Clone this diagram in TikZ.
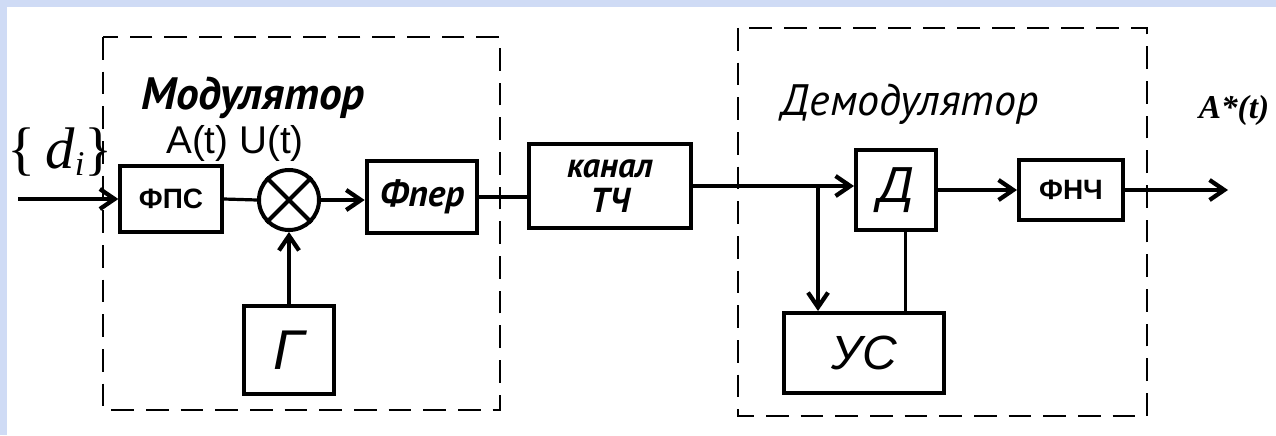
\documentclass[tikz,border=0pt]{standalone}
\usepackage{fontspec}
\setmainfont{Liberation Serif}
\newfontfamily\pts{PT Sans}
\newfontfamily\lib{Liberation Sans}
\usetikzlibrary{arrows.meta,calc}
\definecolor{bgblue}{RGB}{207,219,245}
\tikzset{
  blk/.style={draw, line width=3pt, inner sep=0pt},
  grp/.style={draw, line width=1.8pt, dash pattern=on 17pt off 9pt},
  wire/.style={line width=2.4pt},
  arr/.style={wire, -{Straight Barb[length=11pt,width=15pt,line width=3.2pt]}},
  lbl/.style={inner sep=0pt}
}
\begin{document}
\begin{tikzpicture}[x=0.75pt,y=-0.75pt]
\useasboundingbox (0,0) rectangle (1276,435);
\fill[bgblue] (0,0) rectangle (1276,435);
\fill[white] (7,7) rectangle (1276,435);

% group boxes
\draw[grp] (103,37) rectangle (500,410);
\draw[grp] (738,28) rectangle (1147,416);

% blocks
\node[blk, minimum width=76pt, minimum height=49pt, font=\lib\bfseries\fontsize{21}{21}\selectfont] (fps) at (171,199) {ФПС};
\node[draw, circle, line width=3pt, minimum size=45pt, inner sep=0pt] (mult) at (289,200) {};
\draw[line width=3pt] (mult.north west) -- (mult.south east) (mult.north east) -- (mult.south west);
\node[blk, minimum width=83pt, minimum height=54pt, font=\pts\bfseries\itshape\fontsize{28}{28}\selectfont] (fper) at (422,197) {Фпер};
\node[blk, minimum width=122pt, minimum height=63pt, align=center, font=\pts\bfseries\itshape\fontsize{26}{26}\selectfont] (kanal) at (610,186) {канал\\ТЧ};
\node[blk, minimum width=60pt, minimum height=60pt, font=\lib\itshape\fontsize{38}{38}\selectfont] (d) at (896,190) {Д};
\node[blk, minimum width=78pt, minimum height=45pt, font=\lib\bfseries\fontsize{21}{21}\selectfont] (fnch) at (1071,190) {ФНЧ};
\node[blk, minimum width=68pt, minimum height=66pt, font=\lib\itshape\fontsize{42}{42}\selectfont] (g) at (289,350) {Г};
\node[blk, minimum width=120pt, minimum height=60pt, font=\lib\itshape\fontsize{36}{36}\selectfont] (us) at (864,353) {УС};

% connectors
\coordinate (in) at (18,199);
\coordinate (out) at (1228,190);
\coordinate (j) at (818,186);
\draw[arr] (in) -- (fps.west);
\draw[wire] (fps.east) -- (mult.west);
\draw[arr] (mult.east) -- (mult.east -| fper.west);
\draw[wire] (fper.east) -- (fper.east -| kanal.west);
\draw[arr] (kanal.east) -- (kanal.east -| d.west);
\draw[arr] (j) -- (j |- us.north);
\draw[arr] (d.east) -- (d.east -| fnch.west);
\draw[arr] (fnch.east) -- (out);
\draw[arr] (g.north) -- (mult.south);
\draw[wire] ([xshift=7pt]d.south) -- ([xshift=7pt]d.south |- us.north);

% labels
\node[lbl, font=\pts\bfseries\itshape\fontsize{34}{34}\selectfont] (lmod) at (253,98) {Модулятор};
\node[lbl, font=\lib\fontsize{29}{29}\selectfont] (lau) at (235,143) {A(t) U(t)};
\node[lbl, font=\fontsize{44}{44}\selectfont] (ldi) at (60,152) {\{\,\textit{d}\raisebox{-5pt}{\fontsize{26}{26}\selectfont\textit{i}}\}};
\node[lbl, font=\pts\itshape\fontsize{33}{33}\selectfont] (ldem) at (910,104) {Демодулятор};
\node[lbl, font=\bfseries\itshape\fontsize{25}{25}\selectfont] (lout) at (1234,110) {A*(t)};
\end{tikzpicture}
\end{document}
